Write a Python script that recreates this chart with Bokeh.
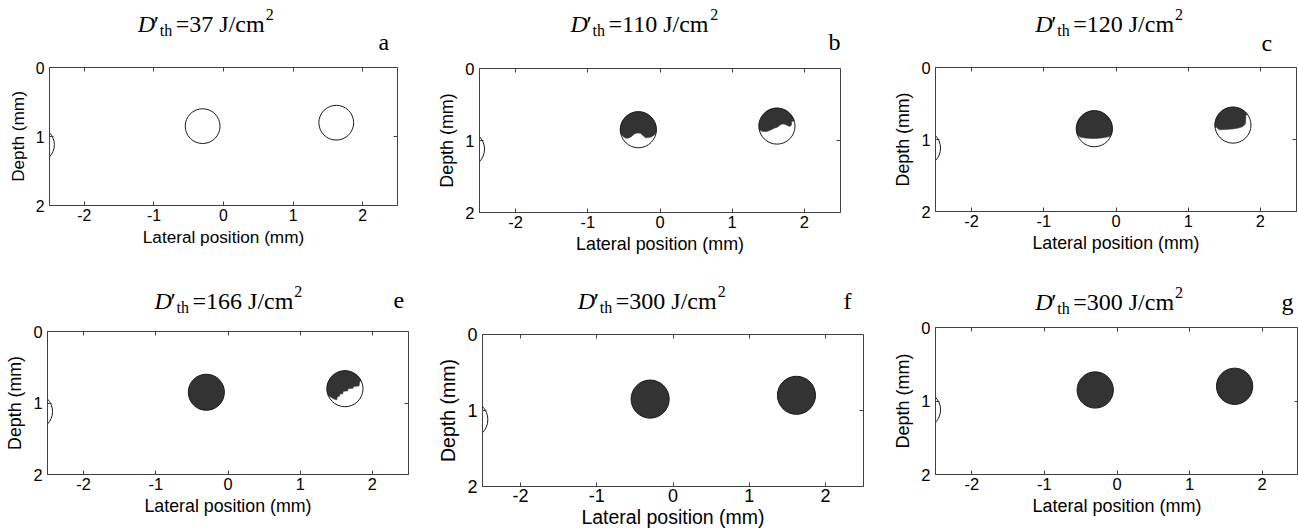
import numpy as np
from bokeh.plotting import figure
from bokeh.models import Range1d, FixedTicker, LinearAxis
from bokeh.core.properties import value
from bokeh.layouts import row, column
from bokeh.embed import file_html
from bokeh.resources import INLINE

# ---------------- data ----------------
x_ticks = [-2, -1, 0, 1, 2]
x_tick_labels = ["-2", "-1", "0", "1", "2"]
y_ticks = [0, 1, 2]
y_tick_labels = ["0", "1", "2"]
x_label = "Lateral position (mm)"
y_label = "Depth (mm)"

panel_letters = ["a", "b", "c", "e", "f", "g"]
fluence = [37, 110, 120, 166, 300, 300]

lesion_x = [-0.30, 1.62, -2.68]
lesion_y = [0.85, 0.80, 1.12]
lesion_r = [0.25, 0.25, 0.25]

# lower boundary of the damaged (dark) region, offsets in lesion radii (dy > 0 = deeper)
b1_dx = [-0.97, -0.82, -0.68, -0.52, -0.38, -0.22, -0.05, 0.12, 0.26, 0.40, 0.56, 0.72, 0.88, 0.99]
b1_dy = [0.23, 0.40, 0.48, 0.46, 0.38, 0.24, 0.18, 0.20, 0.33, 0.45, 0.44, 0.40, 0.30, 0.14]
b2_dx = [-0.98, -0.80, -0.55, -0.35, -0.15, 0.05, 0.15, 0.30, 0.45, 0.60, 0.72, 0.80, 0.82]
b2_dy = [0.20, 0.30, 0.30, 0.22, 0.12, 0.05, -0.05, -0.12, -0.10, -0.02, 0.02, -0.05, -0.25]
c1_dx = [-0.92, -0.75, -0.50, -0.20, 0.10, 0.40, 0.65, 0.85, 0.93]
c1_dy = [0.38, 0.48, 0.52, 0.54, 0.54, 0.52, 0.48, 0.44, 0.36]
c2_dx = [-0.92, -0.75, -0.40, -0.05, 0.25, 0.48, 0.62, 0.70, 0.72]
c2_dy = [0.12, 0.26, 0.25, 0.22, 0.17, 0.11, 0.02, -0.10, -0.55]
e2_dx = [-0.90, -0.62, -0.45, -0.42, -0.30, -0.28, -0.12, -0.10, 0.15, 0.18, 0.45, 0.48, 0.78, 0.82]
e2_dy = [0.40, 0.58, 0.62, 0.45, 0.42, 0.30, 0.28, 0.15, 0.12, 0.00, -0.02, -0.12, -0.15, -0.40]

damage = {
    "a": [None, None, None],
    "b": [(b1_dx, b1_dy), (b2_dx, b2_dy), None],
    "c": [(c1_dx, c1_dy), (c2_dx, c2_dy), None],
    "e": ["full", (e2_dx, e2_dy), None],
    "f": ["full", "full", None],
    "g": ["full", "full", None],
}

# ---------------- layout (pixels) ----------------
W = 1298
STRIP_H = [57, 52]          # title strips above each row
ROW_H = [208, 214]          # panel rows
# width, min_border left/right/top/bottom, tick font, axis-label font, tick/label standoffs
panel_layout = {
    "a": (430, 49, 33, 10, 60, 15.8, 17.2, 3, 3),
    "b": (438, 49, 28, 11, 53, 16.5, 17.9, 3, 3),
    "c": (430, 67, 2, 10, 54, 16.4, 17.8, 3, 3),
    "e": (430, 47, 22, 14, 57, 16.4, 17.8, 3, 3),
    "f": (438, 52, 5, 17, 45, 18.0, 19.5, 2, 1),
    "g": (430, 67, 0, 10, 57, 16.5, 18.0, 3, 3),
}
# title left x / baseline (within strip), panel letter x / baseline
TEXT_SHIFT = -10
title_pos = {
    "a": (137.3, 33, 378, 51.5),
    "b": (570.0, 33, 828, 51.5),
    "c": (1034.7, 33, 1261, 52),
    "e": (154.0, 45, 393, 45),
    "f": (577.3, 45, 843, 45),
    "g": (1034.7, 46, 1281, 46),
}

FILL = "#333333"
EDGE = "#1a1a1a"
FRAME = "#404040"
SERIF = "Liberation Serif"
SANS = "Liberation Sans"
S_MAIN, S_SMALL = 24, 16

TIMES_W = {"=": 564, " ": 250, "J": 389, "/": 278, "c": 444, "m": 778}
for d in "0123456789":
    TIMES_W[d] = 500


def text_width(s, size):
    return sum(TIMES_W.get(ch, 500) for ch in s) * size / 1000.0


def damage_patch(cx, cy, r, dx, dy):
    bx = [cx + r * d for d in dx]
    by = [cy + r * d for d in dy]
    a_r = np.arctan2(dy[-1], dx[-1])
    a_l = np.arctan2(dy[0], dx[0])
    if a_l > a_r:
        a_l -= 2 * np.pi
    t = np.linspace(a_r, a_l, 90)
    return bx + list(cx + r * np.cos(t)), by + list(cy + r * np.sin(t))


def make_panel(i, h):
    letter = panel_letters[i]
    (w, ml, mr, mt, mb, tfs, lfs, tso, lso) = panel_layout[letter]
    p = figure(width=w, height=h, x_range=Range1d(-2.5, 2.5), y_range=Range1d(2, 0),
               output_backend="svg", toolbar_location=None,
               min_border_left=ml, min_border_right=mr, min_border_top=mt, min_border_bottom=mb)
    p.frame_align = False
    p.grid.visible = False
    p.background_fill_color = "white"
    p.border_fill_color = "white"
    p.outline_line_color = FRAME
    p.outline_line_width = 1

    xa, ya = p.xaxis[0], p.yaxis[0]
    xa.ticker = FixedTicker(ticks=x_ticks)
    ya.ticker = FixedTicker(ticks=y_ticks)
    xa.major_label_overrides = {t: s for t, s in zip(x_ticks, x_tick_labels)}
    ya.major_label_overrides = {t: s for t, s in zip(y_ticks, y_tick_labels)}
    xa.axis_label = x_label
    ya.axis_label = y_label
    for ax in (xa, ya):
        ax.major_tick_in = 4
        ax.major_tick_out = 0
        ax.minor_tick_line_color = None
        ax.axis_line_color = FRAME
        ax.major_tick_line_color = FRAME
        ax.major_label_text_font = SANS
        ax.major_label_text_font_size = f"{tfs}px"
        ax.major_label_text_color = "black"
        ax.axis_label_text_font = SANS
        ax.axis_label_text_font_size = f"{lfs}px"
        ax.axis_label_text_font_style = "normal"
        ax.axis_label_text_color = "black"
    xa.major_label_standoff = tso
    xa.axis_label_standoff = lso
    ya.major_label_standoff = 5
    ya.axis_label_standoff = 5

    # tick marks on top and right edges (no labels), pinned to the frame edges
    for side, tk, loc in (("above", x_ticks, 0), ("right", y_ticks, 2.5)):
        ax = LinearAxis(ticker=FixedTicker(ticks=tk), major_tick_in=4, major_tick_out=0,
                        minor_tick_line_color=None, axis_line_color=None,
                        major_tick_line_color=FRAME, major_label_text_color=None,
                        major_label_text_font_size="0px", major_label_standoff=0,
                        axis_label_standoff=0, fixed_location=loc)
        p.add_layout(ax, side)

    for k, state in enumerate(damage[letter]):
        cx, cy, r = lesion_x[k], lesion_y[k], lesion_r[k]
        if state == "full":
            p.circle(x=[cx], y=[cy], radius=r, fill_color=FILL, line_color=EDGE, line_width=1)
        elif state is not None:
            px_, py_ = damage_patch(cx, cy, r, *state)
            p.patch(px_, py_, fill_color=FILL, line_color=FILL, line_width=0.5)
    for k, state in enumerate(damage[letter]):
        if state != "full":
            p.circle(x=[lesion_x[k]], y=[lesion_y[k]], radius=lesion_r[k],
                     fill_color=None, line_color=EDGE, line_width=1)
    return p


def make_strip(indices, h):
    s = figure(width=W, height=h, x_range=Range1d(0, W), y_range=Range1d(h, 0),
               output_backend="svg", toolbar_location=None,
               x_axis_location=None, y_axis_location=None,
               min_border=0, min_border_left=0, min_border_right=0,
               min_border_top=0, min_border_bottom=0)
    s.frame_align = False
    s.grid.visible = False
    s.outline_line_color = None
    s.background_fill_color = "white"
    s.border_fill_color = "white"
    groups = {}  # (size, style) -> lists
    for i in indices:
        letter = panel_letters[i]
        tx, tyb, lx, lyb = title_pos[letter]
        tyb += TEXT_SHIFT
        lyb += TEXT_SHIFT
        main = f"={fluence[i]} J/cm"
        pieces = [
            ("D", tx, tyb, S_MAIN, "italic"),
            ("\u2032", tx + 16, tyb, S_MAIN, "normal"),
            ("th", tx + 22, tyb + 7, S_SMALL, "normal"),
            (main, tx + 38, tyb, S_MAIN, "normal"),
            ("2", tx + 38 + text_width(main, S_MAIN) + 1, tyb - 9, S_SMALL, "normal"),
            (letter, lx, lyb, S_MAIN, "normal"),
        ]
        for txt, px, py, fs, style in pieces:
            g = groups.setdefault((fs, style), ([], [], []))
            g[0].append(px)
            g[1].append(py)
            g[2].append(txt)
    for (fs, style), (xs, ys, ts) in groups.items():
        s.text(x=xs, y=ys, text=ts, text_font=value(SERIF), text_font_size=value(f"{fs}px"),
               text_font_style=value(style), text_color="black",
               text_align="left", text_baseline="alphabetic")
    return s


panels_top = [make_panel(i, ROW_H[0]) for i in range(3)]
panels_bot = [make_panel(i, ROW_H[1]) for i in range(3, 6)]
layout_all = column(make_strip([0, 1, 2], STRIP_H[0]), row(*panels_top),
                    make_strip([3, 4, 5], STRIP_H[1]), row(*panels_bot))
open("out.html", "w").write(file_html(layout_all, INLINE))
